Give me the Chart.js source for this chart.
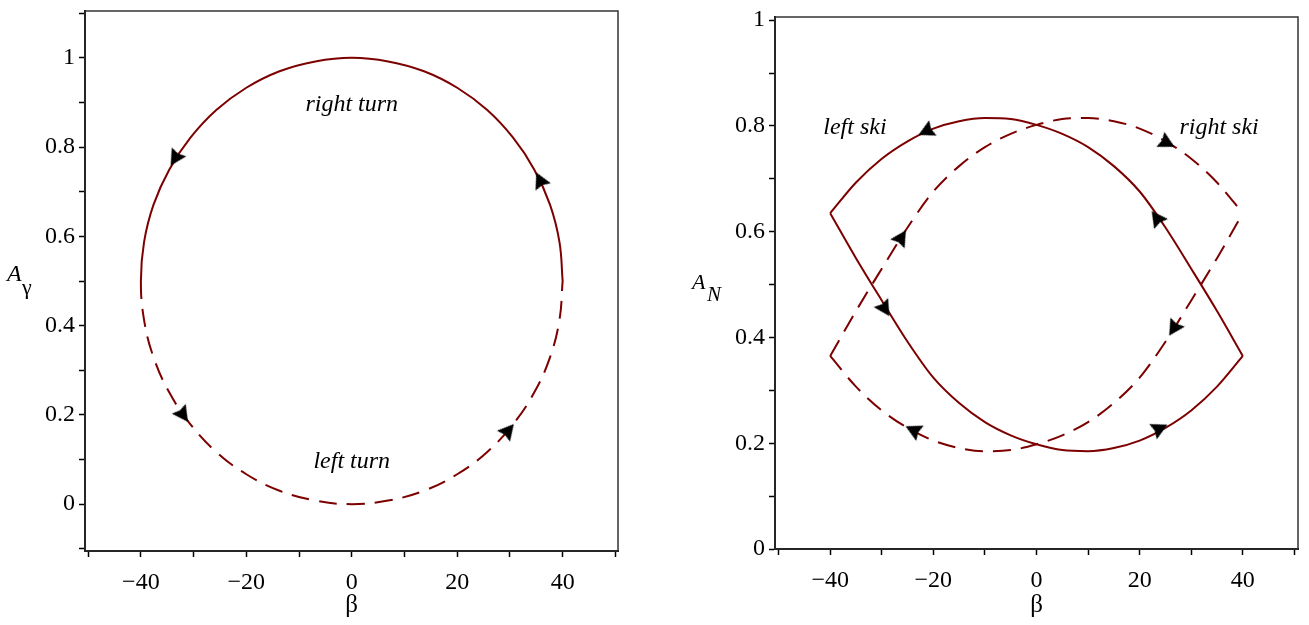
<!DOCTYPE html>
<html>
<head>
<meta charset="utf-8">
<script src="https://cdn.jsdelivr.net/npm/chart.js@4.4.0/dist/chart.umd.min.js"></script>
<style>
  body { margin: 0; background: #fff; }
  canvas { position: absolute; top: 0; }
  #turnChart { left: 0; }
  #skiChart { left: 654px; }
</style>
</head>
<body>
<canvas id="turnChart" width="654" height="625"></canvas>
<canvas id="skiChart" width="655" height="625"></canvas>
<script>
// --- datos ---
// curva izquierda: giro a la derecha (arriba, continua) y a la izquierda (abajo, discontinua)
const rightTurnBeta = [40, 39.4, 37.6, 34.6, 30.6, 25.7, 20, 13.7, 6.9, 0, -6.9, -13.7, -20, -25.7, -30.6, -34.6, -37.6, -39.4, -40];
const rightTurnA = [0.5, 0.587, 0.671, 0.75, 0.821, 0.883, 0.933, 0.97, 0.992, 1, 0.992, 0.97, 0.933, 0.883, 0.821, 0.75, 0.671, 0.587, 0.5];
const leftTurnBeta = [-39.4, -37.6, -34.6, -30.6, -25.7, -20, -13.7, -6.9, 0, 6.9, 13.7, 20, 25.7, 30.6, 34.6, 37.6, 39.4, 40];
const leftTurnA = [0.413, 0.329, 0.25, 0.179, 0.117, 0.067, 0.03, 0.008, 0, 0.008, 0.03, 0.067, 0.117, 0.179, 0.25, 0.329, 0.413, 0.5];
const turnArrowBeta = [-33.5, 35.7, -32, 29.7];
const turnArrowA = [0.775, 0.726, 0.2, 0.165];

// curva derecha: esquí izquierdo (continua) y esquí derecho (discontinua)
const skiBeta = [-40, -35, -30, -25, -20, -15, -10, -5, 0, 5, 10, 15, 20, 25, 30, 35, 40];
const leftSkiUpper = [0.635, 0.693, 0.738, 0.771, 0.795, 0.809, 0.815, 0.813, 0.802, 0.785, 0.76, 0.724, 0.676, 0.608, 0.53, 0.45, 0.365];
const leftSkiLower = [0.635, 0.55, 0.47, 0.392, 0.324, 0.276, 0.24, 0.215, 0.198, 0.187, 0.185, 0.191, 0.205, 0.229, 0.262, 0.307, 0.365];
const rightSkiUpper = [0.365, 0.45, 0.53, 0.608, 0.676, 0.724, 0.76, 0.785, 0.802, 0.813, 0.815, 0.809, 0.795, 0.771, 0.738, 0.693, 0.635];
const rightSkiLower = [0.365, 0.307, 0.262, 0.229, 0.205, 0.191, 0.185, 0.187, 0.198, 0.215, 0.24, 0.276, 0.324, 0.392, 0.47, 0.55, 0.635];
const skiArrowBeta = [-21.4, 23.3, -29.4, 23.9, -26.2, 25.3, 26.6, -23.9];
const skiArrowA = [0.79, 0.626, 0.454, 0.228, 0.589, 0.768, 0.417, 0.225];

// orientación de las flechas (grados, sentido horario desde arriba)
const turnArrowRot = [211.5, 334.6, 144.8, 40.3];
const skiArrowRot = [244, 324, 148, 64, 32, 118, 212, 296];

const lineColor = '#7d0000';
const dash = [18, 10];
const serif = '"Liberation Serif", "Times New Roman", serif';

const pts = (xs, ys) => xs.map((x, i) => ({ x: x, y: ys[i] }));
const minus = s => String(s).replace('-', '\u2212');

// punta de flecha (apunta hacia arriba, Chart.js la gira)
const arrowHead = document.createElement('canvas');
arrowHead.width = 20;
arrowHead.height = 20;
(function () {
    const c = arrowHead.getContext('2d');
    c.fillStyle = '#000';
    c.beginPath();
    c.moveTo(10, 1.5);
    c.lineTo(18.5, 17.5);
    c.lineTo(10, 15.5);
    c.lineTo(1.5, 17.5);
    c.closePath();
    c.fill();
})();

function curve(xs, ys, dashed) {
    return {
        data: pts(xs, ys),
        borderColor: lineColor,
        borderWidth: 2,
        borderDash: dashed ? dash : [],
        pointRadius: 0,
        cubicInterpolationMode: 'monotone',
        fill: false
    };
}

function arrows(xs, ys, rot) {
    return {
        data: pts(xs, ys),
        showLine: false,
        pointStyle: arrowHead,
        pointRotation: rot,
        pointRadius: 10,
        order: -1
    };
}

// marco del área del gráfico
const framePlugin = {
    id: 'frame',
    beforeDatasetsDraw(chart) {
        const a = chart.chartArea, ctx = chart.ctx;
        ctx.save();
        ctx.strokeStyle = '#333';
        ctx.lineWidth = 1.5;
        ctx.strokeRect(a.left, a.top, a.right - a.left, a.bottom - a.top);
        ctx.restore();
    }
};

// textos en cursiva y título del eje y con subíndice
const notesPlugin = {
    id: 'notes',
    afterDraw(chart, args, opts) {
        const ctx = chart.ctx, xs = chart.scales.x, ys = chart.scales.y;
        ctx.save();
        ctx.fillStyle = '#000';
        ctx.textAlign = 'center';
        ctx.textBaseline = 'middle';
        ctx.font = 'italic 24px ' + serif;
        (opts.items || []).forEach(it => {
            ctx.fillText(it.text, xs.getPixelForValue(it.x), ys.getPixelForValue(it.y));
        });
        const t = opts.yTitle;
        if (t) {
            ctx.textAlign = 'left';
            ctx.textBaseline = 'alphabetic';
            ctx.font = 'italic ' + t.size + 'px ' + serif;
            ctx.fillText(t.main, t.x, t.y);
            ctx.font = (t.subItalic ? 'italic ' : '') + t.subSize + 'px ' + serif;
            ctx.fillText(t.sub, t.x + t.subDx, t.y + t.subDy);
        }
        ctx.restore();
    }
};

function axisX(range, height) {
    return {
        type: 'linear',
        min: range[0],
        max: range[1],
        afterFit: s => { s.height = height; s.paddingLeft = 0; s.paddingRight = 0; },
        grid: { drawOnChartArea: false, drawTicks: true, tickLength: 6, tickColor: '#000', tickWidth: 1.5 },
        border: { display: true, color: '#000', width: 2 },
        ticks: {
            stepSize: 10,
            includeBounds: false,
            autoSkip: false,
            maxRotation: 0,
            padding: 11,
            color: '#000',
            font: { family: serif, size: 24 },
            callback: v => {
                const r = Math.round(v);
                return (r % 20 === 0 && Math.abs(r) < 50) ? minus(r) : '';
            }
        },
        title: { display: true, text: 'β', color: '#000', font: { family: serif, size: 25 }, padding: { top: 0, bottom: 5 } }
    };
}

function axisY(range, width) {
    return {
        type: 'linear',
        min: range[0],
        max: range[1],
        afterFit: s => { s.width = width; s.paddingTop = 0; s.paddingBottom = 0; },
        grid: { drawOnChartArea: false, drawTicks: true, tickLength: 6, tickColor: '#000', tickWidth: 1.5 },
        border: { display: true, color: '#000', width: 2 },
        ticks: {
            stepSize: 0.1,
            includeBounds: false,
            autoSkip: false,
            padding: 4,
            color: '#000',
            font: { family: serif, size: 24 },
            callback: v => {
                const r = Math.round(v * 10);
                return r % 2 === 0 ? String(r / 10) : '';
            }
        }
    };
}

function baseOptions(padding, xRange, yRange, yWidth, xHeight, notes) {
    return {
        responsive: false,
        animation: false,
        devicePixelRatio: 1,
        layout: { padding: padding },
        scales: { x: axisX(xRange, xHeight), y: axisY(yRange, yWidth) },
        plugins: {
            legend: { display: false },
            tooltip: { enabled: false },
            notes: notes
        }
    };
}

// gráfico izquierdo: giros (una sola curva cerrada, la mitad inferior discontinua)
const topCount = rightTurnBeta.length;
new Chart(document.getElementById('turnChart').getContext('2d'), {
    type: 'line',
    data: {
        datasets: [
            {
                data: pts(rightTurnBeta.concat(leftTurnBeta), rightTurnA.concat(leftTurnA)),
                borderColor: lineColor,
                borderWidth: 2,
                pointRadius: 0,
                tension: 0.4,
                fill: false,
                segment: {
                    borderDash: ctx => ctx.p0DataIndex >= topCount - 1 ? dash : undefined
                }
            },
            arrows(turnArrowBeta, turnArrowA, turnArrowRot)
        ]
    },
    options: baseOptions({ top: 5, right: 36, left: 0, bottom: 0 }, [-50.6, 50.5], [-0.105, 1.105], 85, 74, {
        items: [
            { text: 'right turn', x: 0, y: 0.894 },
            { text: 'left turn', x: 0, y: 0.096 }
        ],
        yTitle: { main: 'A', sub: 'γ', x: 7, y: 281, size: 24, subSize: 22, subDx: 15, subDy: 13, subItalic: false }
    }),
    plugins: [framePlugin, notesPlugin]
});

// gráfico derecho: esquís
new Chart(document.getElementById('skiChart').getContext('2d'), {
    type: 'line',
    data: {
        datasets: [
            curve(skiBeta, leftSkiUpper, false),
            curve(skiBeta, leftSkiLower, false),
            curve(skiBeta, rightSkiUpper, true),
            curve(skiBeta, rightSkiLower, true),
            arrows(skiArrowBeta, skiArrowA, skiArrowRot)
        ]
    },
    options: baseOptions({ top: 17, right: 4, left: 0, bottom: 0 }, [-50.7, 50.7], [0, 1.006], 121, 76, {
        items: [
            { text: 'left ski', x: -35.2, y: 0.796 },
            { text: 'right ski', x: 35.4, y: 0.796 }
        ],
        yTitle: { main: 'A', sub: 'N', x: 38, y: 289, size: 22, subSize: 21, subDx: 15, subDy: 12, subItalic: true }
    }),
    plugins: [framePlugin, notesPlugin]
});
</script>
</body>
</html>
